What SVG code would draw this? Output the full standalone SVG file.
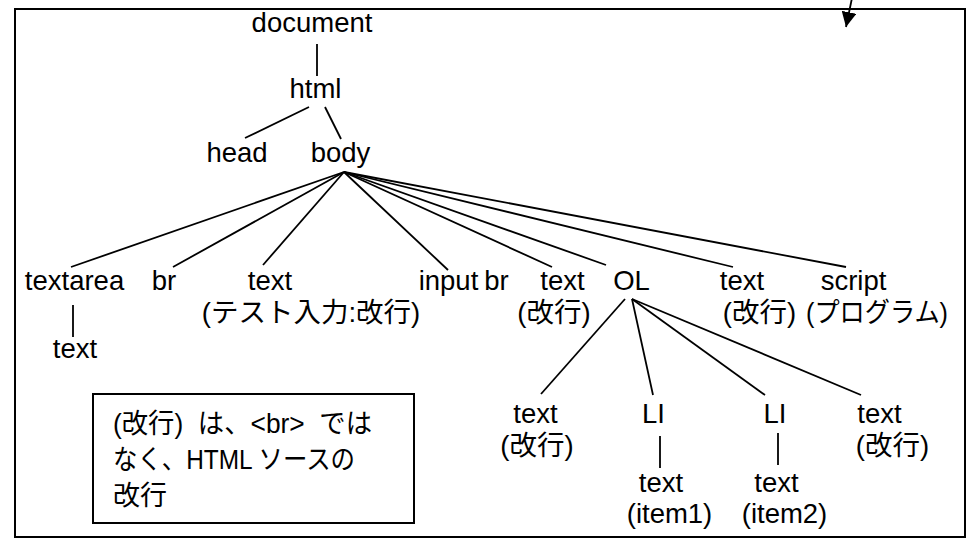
<svg xmlns="http://www.w3.org/2000/svg" width="968" height="540" viewBox="0 0 968 540">
<style>
text{font-family:"Liberation Sans","Noto Sans CJK JP",sans-serif;font-size:27.5px;fill:#000;text-anchor:middle}
.jp{font-family:"Liberation Sans","Noto Sans CJK JP",sans-serif}
.note{text-anchor:start;font-size:27px;white-space:pre}
.c line{stroke:#000;stroke-width:1.8;fill:none}
.frame{fill:none;stroke:#000;stroke-width:2}
</style>
<defs>
<marker id="ah" viewBox="0 0 15 15" refX="15" refY="7.5" markerWidth="15" markerHeight="15" markerUnits="userSpaceOnUse" orient="auto">
<path d="M0,0 L15,7.5 L0,15 z" fill="#000"/>
</marker>
</defs>
<rect width="968" height="540" fill="#fff"/>
<rect class="frame" x="15" y="9" width="950" height="528"/>
<g class="c" id="connectors">
<line x1="852" y1="-2" x2="846" y2="27" marker-end="url(#ah)"/>
<line x1="317" y1="44" x2="317" y2="76"/>
<line x1="309" y1="107" x2="245" y2="138"/>
<line x1="325" y1="107" x2="341" y2="139"/>
<line x1="344" y1="172" x2="71" y2="267"/>
<line x1="344" y1="172" x2="173" y2="267"/>
<line x1="344" y1="172" x2="263" y2="265"/>
<line x1="344" y1="172" x2="448" y2="270"/>
<line x1="344" y1="172" x2="552" y2="267"/>
<line x1="344" y1="172" x2="606" y2="265"/>
<line x1="344" y1="172" x2="733" y2="267"/>
<line x1="344" y1="172" x2="846" y2="267"/>
<line x1="73" y1="305" x2="73" y2="337"/>
<line x1="625" y1="299" x2="541" y2="394"/>
<line x1="632" y1="299" x2="653" y2="395"/>
<line x1="632" y1="299" x2="765" y2="395"/>
<line x1="632" y1="299" x2="861" y2="395"/>
<line x1="660" y1="436" x2="660" y2="468"/>
<line x1="778" y1="433" x2="778" y2="465"/>
</g>
<g id="document"><text x="312" y="32">document</text></g>
<g id="html"><text x="315.5" y="98">html</text></g>
<g id="head"><text x="237" y="162">head</text></g>
<g id="body"><text x="340.5" y="162">body</text></g>
<g id="textarea"><text x="74.5" y="290">textarea</text></g>
<g id="textarea-text"><text x="75" y="358">text</text></g>
<g id="br1"><text x="164" y="290">br</text></g>
<g id="text1"><text x="270" y="290">text</text><text class="jp" x="311" y="322">(テスト入力:改行)</text></g>
<g id="input"><text x="448.5" y="290">input</text></g>
<g id="br2"><text x="496.5" y="290">br</text></g>
<g id="text2"><text x="562.5" y="290">text</text><text class="jp" x="554" y="322">(改行)</text></g>
<g id="ol"><text x="631.5" y="290">OL</text></g>
<g id="text3"><text x="742" y="290">text</text><text class="jp" x="759.5" y="322">(改行)</text></g>
<g id="script"><text x="853.5" y="290">script</text><text class="jp" x="877" y="322" textLength="142" lengthAdjust="spacingAndGlyphs">(プログラム)</text></g>
<g id="ol-text1"><text x="535.5" y="423">text</text><text class="jp" x="537" y="455">(改行)</text></g>
<g id="li1"><text x="653.5" y="423">LI</text></g>
<g id="li2"><text x="775" y="423">LI</text></g>
<g id="ol-text2"><text x="879.5" y="423">text</text><text class="jp" x="892.5" y="455">(改行)</text></g>
<g id="li1-text"><text x="661" y="492">text</text><text x="669.5" y="523">(item1)</text></g>
<g id="li2-text"><text x="776.5" y="492">text</text><text x="784.5" y="523">(item2)</text></g>
<g id="note">
<rect class="frame" x="93" y="394" width="321" height="129"/>
<text class="note" x="113" y="433" textLength="259" lengthAdjust="spacingAndGlyphs">(改行)  は、&lt;br&gt;  では</text>
<text class="note" x="113" y="469" textLength="242" lengthAdjust="spacingAndGlyphs">なく、HTML ソースの</text>
<text class="note" x="113" y="505">改行</text>
</g>
</svg>
